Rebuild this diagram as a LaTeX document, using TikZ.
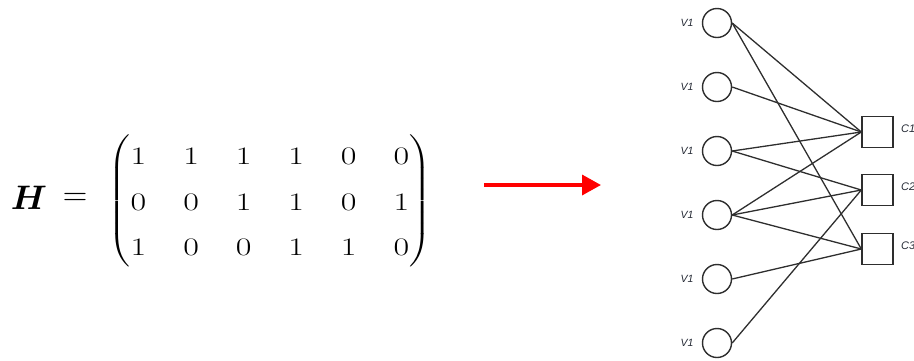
\RequirePackage{fix-cm}
\documentclass[tikz,border=0pt]{standalone}
\usepackage{amsmath,bm,graphicx}
\usepackage{fontspec}
\newfontfamily\lblfont{Liberation Sans}
\usetikzlibrary{arrows.meta}
\definecolor{edgegray}{HTML}{2E2E2E}
\definecolor{lblcol}{HTML}{262B36}
\begin{document}
\begin{tikzpicture}[x=1pt,y=-1pt,
  vnode/.style={circle,draw=edgegray,line width=1.4pt,minimum size=29pt,inner sep=0pt},
  cnode/.style={rectangle,draw=edgegray,line width=1.4pt,minimum size=31pt,inner sep=0pt},
  lbl/.style={font=\lblfont\itshape\fontsize{10.5}{11}\selectfont,text=lblcol,inner sep=0pt},
  math/.style={inner sep=0pt,font=\fontsize{34}{41}\selectfont},
  edge/.style={draw=edgegray,line width=1.3pt},
  redarrow/.style={draw=red,line width=3.5pt,-{Triangle[length=19pt,width=20pt]}}]
\useasboundingbox (0,0) rectangle (914,360);
\node[math] (H) at (29,198) {$\bm{H}$};
\node[math] (eq) at (75,199) {$=$};
\node[math] (M) at (270,201) {\scalebox{1}[0.74]{%
  $\renewcommand{\arraystretch}{1.49}\setlength{\arraycolsep}{18.5pt}%
  \begin{pmatrix}1&1&1&1&0&0\\0&0&1&1&0&1\\1&0&0&1&1&0\end{pmatrix}$}};
\coordinate (as) at (484,185);
\coordinate (ae) at (601,185);
\draw[redarrow] (as) -- (ae);
\foreach \i/\y in {1/23,2/87,3/151,4/215,5/279,6/343}{
  \node[vnode] (v\i) at (717,\y) {};
  \node[lbl] (lv\i) at (687,\y) {V1};
}
\foreach \i/\y in {1/132,2/190,3/249}{
  \node[cnode] (c\i) at (877.5,\y) {};
  \node[lbl,anchor=west,font=\lblfont\itshape\fontsize{11}{12}\selectfont] (lc\i) at (901,\y-3) {C\i};
}
\foreach \a/\b in {1/1,2/1,3/1,4/1,3/2,4/2,6/2,1/3,4/3,5/3}{
  \draw[edge] (v\a.east) -- (c\b.west);
}
\end{tikzpicture}
\end{document}
